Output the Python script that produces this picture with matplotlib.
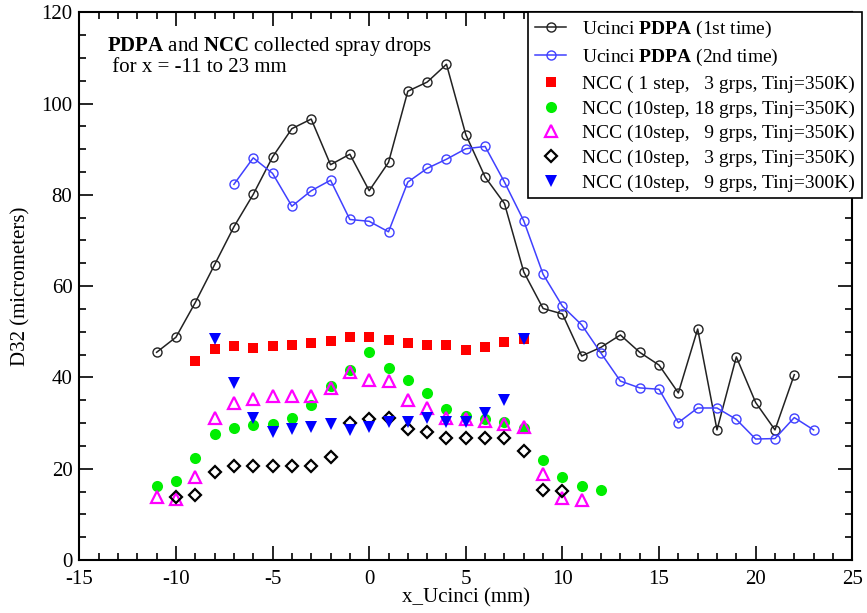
import matplotlib
matplotlib.use('Agg')
import matplotlib.pyplot as plt
from matplotlib.ticker import MultipleLocator

plt.rcParams['font.family'] = ['Liberation Serif', 'DejaVu Serif']
plt.rcParams['mathtext.fontset'] = 'custom'
plt.rcParams['mathtext.rm'] = 'Liberation Serif'
plt.rcParams['mathtext.bf'] = 'Liberation Serif:bold'
plt.rcParams['axes.unicode_minus'] = False

# PDPA measurements
x_pdpa1 = list(range(-11, 23))
y_pdpa1 = [45.5, 48.8, 56.4, 64.7, 73.0, 80.1, 88.3, 94.5, 96.6, 86.6, 88.9,
           80.9, 87.1, 102.7, 104.7, 108.6, 93.2, 83.9, 78.1, 63.1, 55.1, 53.9,
           44.7, 46.6, 49.3, 45.5, 42.7, 36.6, 50.6, 28.5, 44.5, 34.5, 28.5, 40.6]
x_pdpa2 = list(range(-7, 24))
y_pdpa2 = [82.3, 88.1, 84.7, 77.5, 80.9, 83.2, 74.6, 74.2, 71.9, 82.8, 85.8,
           87.8, 90.1, 90.6, 82.8, 74.3, 62.6, 55.6, 51.5, 45.3, 39.2, 37.7,
           37.4, 30.1, 33.3, 33.3, 30.8, 26.5, 26.6, 31.2, 28.5]

# NCC runs
x_red = list(range(-9, 9))
y_red = [43.6, 46.3, 46.9, 46.5, 46.9, 47.2, 47.6, 48.0, 48.8, 48.9, 48.2,
         47.6, 47.1, 47.1, 46.1, 46.6, 47.8, 48.5]
x_green = list(range(-11, 13))
y_green = [16.2, 17.4, 22.3, 27.5, 29.0, 29.5, 29.8, 31.2, 33.9, 38.1, 41.7,
           45.6, 42.0, 39.5, 36.6, 33.0, 31.5, 30.9, 30.2, 29.0, 22.0, 18.2,
           16.2, 15.3]
x_mag = list(range(-11, 12))
y_mag = [13.7, 13.4, 18.2, 31.2, 34.4, 35.2, 36.0, 36.0, 36.0, 37.6, 41.2,
         39.4, 39.3, 35.0, 33.2, 31.2, 30.9, 30.4, 29.8, 29.1, 18.8, 13.5, 13.1]
x_dia = list(range(-10, 11))
y_dia = [13.9, 14.2, 19.3, 20.6, 20.6, 20.6, 20.6, 20.6, 22.6, 30.1, 30.9,
         31.0, 28.8, 28.1, 26.8, 26.8, 26.8, 26.8, 23.9, 15.3, 15.2]
x_blue = list(range(-8, 9))
y_blue = [48.5, 38.7, 31.0, 28.1, 28.8, 29.2, 29.8, 28.5, 29.2, 30.3, 30.3,
          31.0, 30.3, 30.3, 32.1, 35.0, 48.5]

fig = plt.figure(figsize=(8.67, 6.13), dpi=100)
ax = fig.add_axes([0.0915, 0.0865, 0.8915, 0.8935])

blue_line = '#4040ff'
ax.plot(x_pdpa1, y_pdpa1, '-o', color='#222222', lw=1.1, ms=6.5, mfc='none',
        mew=1.0, label=r'Ucinci $\mathbf{PDPA}$ (1st time)')
ax.plot(x_pdpa2, y_pdpa2, '-o', color=blue_line, lw=1.1, ms=6.5, mfc='none',
        mew=1.0, label=r'Ucinci $\mathbf{PDPA}$ (2nd time)')
ax.plot(x_red, y_red, 's', color='#ff0000', ms=7, mew=0, ls='none',
        label='NCC ( 1 step,   3 grps, Tinj=350K)')
ax.plot(x_green, y_green, 'o', color='#00ee00', ms=8, mew=0, ls='none',
        label='NCC (10step, 18 grps, Tinj=350K)')
ax.plot(x_mag, y_mag, '^', mfc='none', mec='#ff00ff', ms=8.5, mew=1.6, ls='none',
        label='NCC (10step,   9 grps, Tinj=350K)')
ax.plot(x_dia, y_dia, 'D', mfc='none', mec='black', ms=6, mew=1.6, ls='none',
        label='NCC (10step,   3 grps, Tinj=350K)')
ax.plot(x_blue, y_blue, 'v', color='#0000ff', ms=8.5, mew=0, ls='none',
        label='NCC (10step,   9 grps, Tinj=300K)')

ax.set_xlim(-15, 25)
ax.set_ylim(0, 120)
ax.xaxis.set_major_locator(MultipleLocator(5))
ax.xaxis.set_minor_locator(MultipleLocator(1))
ax.yaxis.set_major_locator(MultipleLocator(20))
ax.yaxis.set_minor_locator(MultipleLocator(5))
ax.tick_params(which='both', direction='in', top=True, right=True,
               labelsize=15, width=1.2)
ax.tick_params(which='major', length=10)
ax.tick_params(axis='x', which='major', pad=7)
ax.tick_params(axis='y', which='major', pad=5)
ax.tick_params(which='minor', length=5)
for s in ax.spines.values():
    s.set_linewidth(1.5)

ax.set_xlabel('x_Ucinci (mm)', fontsize=15, labelpad=0)
ax.set_ylabel('D32 (micrometers)', fontsize=15, labelpad=8)

ax.text(0.036, 0.958, r'$\mathbf{PDPA}$ and $\mathbf{NCC}$ collected spray drops' '\n' r' for x = -11 to 23 mm',
        transform=ax.transAxes, fontsize=15, va='top', ha='left', linespacing=0.95)

leg = ax.legend(loc='upper left', bbox_to_anchor=(0.581, 1.0), fontsize=14,
                fancybox=False, edgecolor='black', framealpha=1, borderaxespad=0,
                handlelength=1.6, handletextpad=0.8, labelspacing=0.36,
                borderpad=0.35)
leg.get_frame().set_linewidth(1.2)

fig.savefig('out.png', dpi=100)
